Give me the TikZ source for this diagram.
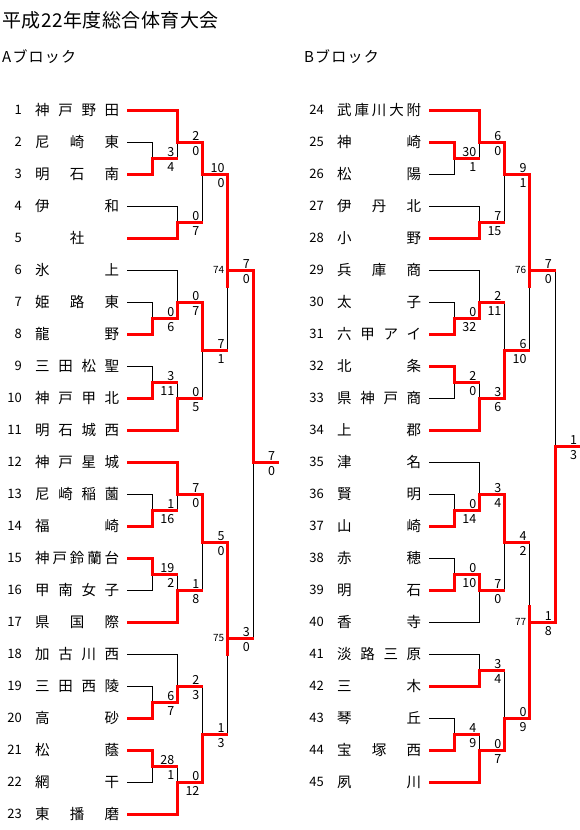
\documentclass[tikz,border=0pt]{standalone}
\usepackage{fontspec}
\setmainfont{Noto Sans CJK JP}
\pgfdeclarelayer{bg}
\pgfsetlayers{bg,main}
\tikzset{
  winline/.style={draw=red, line width=3pt},
  loseline/.style={draw=black, line width=0.9pt, line cap=rect},
  scorelbl/.style={font=\fontsize{12.5}{12.5}\selectfont, inner sep=0pt, anchor=base east},
  matchlbl/.style={font=\fontsize{10}{10}\selectfont, inner sep=0pt, anchor=east},
  teamname/.style={font=\fontsize{14.5}{14.5}\selectfont, inner sep=0pt, anchor=west},
  teamnum/.style={font=\fontsize{13}{13}\selectfont, inner sep=0pt, anchor=east},
  titlelbl/.style={font=\fontsize{19}{19}\selectfont\addfontfeature{LetterSpace=2.5}, inner sep=0pt, anchor=west},
  blocklbl/.style={font=\fontsize{15}{15}\selectfont\addfontfeature{LetterSpace=8}, inner sep=0pt, anchor=west},
}
% #1 name, #2 number, #3 half-row, #4 name text, #5 entry column, #6 win/lose
\newcommand\Team[6]{%
  \pgfmathsetmacro\ty{110+16*#3}%
  \pgfmathsetmacro\tx{\xb+25.2*#5}%
  \node[teamnum] (#1n) at (\xb-105,\ty) {#2};
  \node[teamname] (#1) at (\xb-92,\ty) {\makebox[84pt][s]{#4}};
  \coordinate (#1e) at (\tx,\ty);
  \ifx#6w\draw[winline] (\xb,\ty) -- (#1e);%
  \else\begin{pgfonlayer}{bg}\draw[loseline] (\xb,\ty) -- (#1e);\end{pgfonlayer}\fi
}
% #1 name, #2 column, #3 h winner in, #4 h loser in, #5 h out, #6 h split, #7 top score, #8 bottom score
\newcommand\Match[8]{%
  \pgfmathsetmacro\mx{\xb+25.2*#2}%
  \pgfmathsetmacro\mxn{\xb+25.2*(#2+1)}%
  \pgfmathsetmacro\ywin{110+16*#3}%
  \pgfmathsetmacro\ylose{110+16*#4}%
  \pgfmathsetmacro\yout{110+16*#5}%
  \pgfmathsetmacro\ysplit{110+16*#6}%
  \coordinate (#1w) at (\mx,\ywin);
  \coordinate (#1l) at (\mx,\ylose);
  \coordinate (#1s) at (\mx,\ysplit);
  \coordinate (#1) at (\mx,\yout);
  \coordinate (#1o) at (\mxn+0.5,\yout);
  \begin{pgfonlayer}{bg}\draw[loseline] (#1l) -- (#1s);\end{pgfonlayer}
  \draw[winline, line cap=rect] (#1w) -- (#1s);
  \draw[winline] (#1) -- (#1o);
  \node[scorelbl] (#1t) at (\mxn-3,\yout-2) {#7};
  \node[scorelbl] (#1b) at (\mxn-3,\yout+13.6) {#8};
}
\begin{document}
\begin{tikzpicture}[x=1pt,y=-1pt]
\useasboundingbox (0,0) rectangle (580,830);
\node[titlelbl] (title) at (2,20) {平成22年度総合体育大会};
\node[blocklbl] (blkA) at (2,57) {Aブロック};
\node[blocklbl] (blkB) at (304,57) {Bブロック};
% ---------------- A block
\def\xb{127}
\Team{t1}{1}{0}{神\hfill 戸\hfill 野\hfill 田}{2}{w}
\Team{t2}{2}{2}{尼\hfill 崎\hfill 東}{1}{l}
\Team{t3}{3}{4}{明\hfill 石\hfill 南}{1}{w}
\Team{t4}{4}{6}{伊\hfill 和}{2}{l}
\Team{t5}{5}{8}{\hfill 社\hfill}{2}{w}
\Team{t6}{6}{10}{氷\hfill 上}{2}{l}
\Team{t7}{7}{12}{姫\hfill 路\hfill 東}{1}{l}
\Team{t8}{8}{14}{龍\hfill 野}{1}{w}
\Team{t9}{9}{16}{三\hfill 田\hfill 松\hfill 聖}{1}{l}
\Team{t10}{10}{18}{神\hfill 戸\hfill 甲\hfill 北}{1}{w}
\Team{t11}{11}{20}{明\hfill 石\hfill 城\hfill 西}{2}{w}
\Team{t12}{12}{22}{神\hfill 戸\hfill 星\hfill 城}{2}{w}
\Team{t13}{13}{24}{尼\hfill 崎\hfill 稲\hfill 薗}{1}{l}
\Team{t14}{14}{26}{福\hfill 崎}{1}{w}
\Team{t15}{15}{28}{神\hfill 戸\hfill 鈴\hfill 蘭\hfill 台}{1}{w}
\Team{t16}{16}{30}{甲\hfill 南\hfill 女\hfill 子}{1}{l}
\Team{t17}{17}{32}{県\hfill 国\hfill 際}{2}{w}
\Team{t18}{18}{34}{加\hfill 古\hfill 川\hfill 西}{2}{l}
\Team{t19}{19}{36}{三\hfill 田\hfill 西\hfill 陵}{1}{l}
\Team{t20}{20}{38}{高\hfill 砂}{1}{w}
\Team{t21}{21}{40}{松\hfill 蔭}{1}{w}
\Team{t22}{22}{42}{網\hfill 干}{1}{l}
\Team{t23}{23}{44}{東\hfill 播\hfill 磨}{2}{w}
\Match{a1}{1}{4}{2}{3}{3}{3}{4}
\Match{a2}{2}{0}{3}{2}{2}{2}{0}
\Match{a3}{2}{8}{6}{7}{7}{0}{7}
\Match{a4}{3}{2}{7}{4}{4}{10}{0}
\Match{a5}{1}{14}{12}{13}{13}{0}{6}
\Match{a6}{2}{13}{10}{12}{12}{0}{7}
\Match{a7}{1}{18}{16}{17}{17}{3}{11}
\Match{a8}{2}{20}{17}{18}{18}{0}{5}
\Match{a9}{3}{12}{18}{15}{15}{7}{1}
\Match{a10}{4}{4}{15}{10}{11}{7}{0}
\node[matchlbl] (m74) at (\mx-3.5,\yout) {74};
\Match{a11}{1}{26}{24}{25}{25}{1}{16}
\Match{a12}{2}{22}{25}{24}{24}{7}{0}
\Match{a13}{1}{28}{30}{29}{29}{19}{2}
\Match{a14}{2}{32}{29}{30}{30}{1}{8}
\Match{a15}{3}{24}{30}{27}{27}{5}{0}
\Match{a16}{1}{38}{36}{37}{37}{6}{7}
\Match{a17}{2}{37}{34}{36}{36}{2}{3}
\Match{a18}{1}{40}{42}{41}{41}{28}{1}
\Match{a19}{2}{44}{41}{42}{42}{0}{12}
\Match{a20}{3}{42}{36}{39}{39}{1}{3}
\Match{a21}{4}{27}{39}{33}{34}{3}{0}
\node[matchlbl] (m75) at (\mx-3.5,\yout) {75};
\Match{a22}{5}{10}{33}{22}{22}{7}{0}
% ---------------- B block
\def\xb{429}
\Team{t24}{24}{0}{武\hfill 庫\hfill 川\hfill 大\hfill 附}{2}{w}
\Team{t25}{25}{2}{神\hfill 崎}{1}{w}
\Team{t26}{26}{4}{松\hfill 陽}{1}{l}
\Team{t27}{27}{6}{伊\hfill 丹\hfill 北}{2}{l}
\Team{t28}{28}{8}{小\hfill 野}{2}{w}
\Team{t29}{29}{10}{兵\hfill 庫\hfill 商}{2}{l}
\Team{t30}{30}{12}{太\hfill 子}{1}{l}
\Team{t31}{31}{14}{六\hfill 甲\hfill ア\hfill イ}{1}{w}
\Team{t32}{32}{16}{北\hfill 条}{1}{w}
\Team{t33}{33}{18}{県\hfill 神\hfill 戸\hfill 商}{1}{l}
\Team{t34}{34}{20}{上\hfill 郡}{2}{w}
\Team{t35}{35}{22}{津\hfill 名}{2}{l}
\Team{t36}{36}{24}{賢\hfill 明}{1}{l}
\Team{t37}{37}{26}{山\hfill 崎}{1}{w}
\Team{t38}{38}{28}{赤\hfill 穂}{1}{l}
\Team{t39}{39}{30}{明\hfill 石}{1}{w}
\Team{t40}{40}{32}{香\hfill 寺}{2}{l}
\Team{t41}{41}{34}{淡\hfill 路\hfill 三\hfill 原}{2}{l}
\Team{t42}{42}{36}{三\hfill 木}{2}{w}
\Team{t43}{43}{38}{琴\hfill 丘}{1}{l}
\Team{t44}{44}{40}{宝\hfill 塚\hfill 西}{1}{w}
\Team{t45}{45}{42}{夙\hfill 川}{2}{w}
\Match{b1}{1}{2}{4}{3}{3}{30}{1}
\Match{b2}{2}{0}{3}{2}{2}{6}{0}
\Match{b3}{2}{8}{6}{7}{7}{7}{15}
\Match{b4}{3}{2}{7}{4}{4}{9}{1}
\Match{b5}{1}{14}{12}{13}{13}{0}{32}
\Match{b6}{2}{13}{10}{12}{12}{2}{11}
\Match{b7}{1}{16}{18}{17}{17}{2}{0}
\Match{b8}{2}{20}{17}{18}{18}{3}{6}
\Match{b9}{3}{18}{12}{15}{15}{6}{10}
\Match{b10}{4}{4}{15}{10}{11}{7}{0}
\node[matchlbl] (m76) at (\mx-3.5,\yout) {76};
\Match{b11}{1}{26}{24}{25}{25}{0}{14}
\Match{b12}{2}{25}{22}{24}{24}{3}{4}
\Match{b13}{1}{30}{28}{29}{29}{0}{10}
\Match{b14}{2}{29}{32}{30}{30}{7}{0}
\Match{b15}{3}{24}{30}{27}{27}{4}{2}
\Match{b16}{2}{36}{34}{35}{35}{3}{4}
\Match{b17}{1}{40}{38}{39}{39}{4}{9}
\Match{b18}{2}{42}{39}{40}{40}{0}{7}
\Match{b19}{3}{40}{35}{38}{38}{0}{9}
\Match{b20}{4}{38}{27}{32}{31}{1}{8}
\node[matchlbl] (m77) at (\mx-3.5,\yout) {77};
\Match{b21}{5}{32}{10}{21}{21}{1}{3}
\end{tikzpicture}
\end{document}
